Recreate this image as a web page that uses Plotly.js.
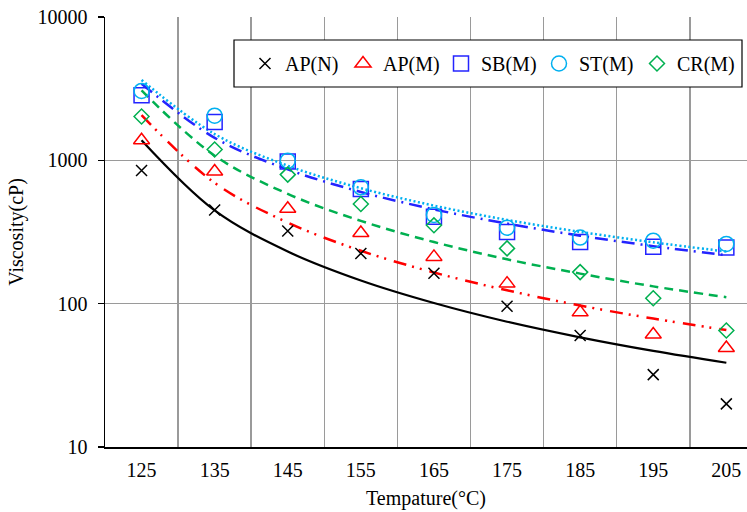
<!DOCTYPE html>
<html>
<head>
<meta charset="utf-8">
<script src="https://cdn.plot.ly/plotly-3.0.1.min.js"></script>
<style>html,body{margin:0;padding:0;background:#fff;}#chart{width:747px;height:512px;}</style>
</head>
<body>
<div id="chart"></div>
<script>
// Temperature categories (°C)
var temps = [125, 135, 145, 155, 165, 175, 185, 195, 205];
var gridTemps = [130, 140, 150, 160, 170, 180, 190, 200];
var yTicks = [10, 100, 1000, 10000];
var yTickText = ['10', '100', '1000', '10000'];

// Measured viscosity (cP)
var apN = [850, 450, 321, 224, 163, 96, 60, 32, 20];
var apM = [1380, 835, 460, 311, 212, 138, 87, 61, 49];
var sbM = [2850, 1850, 980, 630, 404, 316, 269, 250, 247];
var stM = [3050, 2050, 995, 648, 416, 339, 289, 275, 261];
var crM = [2020, 1190, 795, 496, 352, 243, 166, 109, 65];

// Trend lines (cP)
var apNTrend = [1380, 447, 231, 145, 101, 74.8, 58.2, 46.8, 38.7];
var apMTrend = [2068, 696, 368, 234, 165, 124, 97, 78.7, 65.5];
var sbMTrend = [3426, 1436, 864, 602, 455, 362, 298, 252, 218];
var stMTrend = [3639, 1525, 917, 639, 483, 384, 317, 268, 231];
var crMTrend = [3073, 1078, 583, 378, 269, 204, 162, 132, 111];

var names = ['AP(N)', 'AP(M)', 'SB(M)', 'ST(M)', 'CR(M)'];

var cBlack = '#000000', cRed = '#FF0000', cBlue = '#2424FF', cSky = '#00B0F0', cGreen = '#00B050';

function trend(y, color, width, dash) {
  return {x: temps, y: y, type: 'scatter', mode: 'lines', showlegend: false, hoverinfo: 'skip',
    line: {color: color, width: width, dash: dash, shape: 'spline', smoothing: 1}};
}
function pts(y, name, symbol, size, color) {
  return {x: temps, y: y, type: 'scatter', mode: 'markers', name: name,
    marker: {symbol: symbol, size: size, color: color, line: {color: color, width: 1.5}}};
}

var traces = [
  trend(apNTrend, cBlack, 2.2, 'solid'),
  trend(apMTrend, cRed, 2.5, '13px,6px,2px,6px,2px,8px'),
  trend(sbMTrend, cBlue, 2.5, '13px,6px,2px,6px'),
  trend(stMTrend, cSky, 2.5, '2px,2.5px'),
  trend(crMTrend, cGreen, 2.5, '9px,6px'),
  pts(apN, names[0], 'x-thin-open', 11, cBlack),
  pts(apM, names[1], 'triangle-up-open', 14, cRed),
  pts(sbM, names[2], 'square-open', 15, cBlue),
  pts(stM, names[3], 'circle-open', 15, cSky),
  pts(crM, names[4], 'diamond-open', 11.5, cGreen)
];

var fontFam = 'Liberation Serif, Times New Roman, serif';
var L = 105, T = 17, B = 65, W = 747, H = 512;
var pw = W - L, ph = H - T - B;
function px(x) { return (x - L) / pw; }
function py(y) { return (H - B - y) / ph; }

var layout = {
  width: W, height: H,
  margin: {l: L, r: 0, t: T, b: B, pad: 0, autoexpand: false},
  paper_bgcolor: '#fff', plot_bgcolor: '#fff',
  font: {family: fontFam, size: 20, color: '#000'},
  showlegend: true,
  xaxis: {
    type: 'linear', range: [120, 120 + pw / 7.31],
    tickmode: 'array', tickvals: temps, ticktext: temps.map(String),
    showgrid: false, zeroline: false, ticks: '', ticklabelstandoff: 4,
    showline: true, linecolor: '#000', linewidth: 1.5, automargin: false,
    tickfont: {family: fontFam, size: 20, color: '#000'},
    minor: {tickmode: 'array', tickvals: gridTemps, showgrid: true, gridcolor: '#9a9a9a', gridwidth: 1.5, ticks: ''},
    title: {text: 'Tempature(°C)', font: {family: fontFam, size: 20, color: '#000'}, standoff: 11}
  },
  yaxis: {
    type: 'log', range: [1, 4],
    tickmode: 'array', tickvals: yTicks, ticktext: yTickText,
    showgrid: true, gridcolor: '#9a9a9a', gridwidth: 1.5, zeroline: false,
    ticks: 'outside', ticklen: 6, tickwidth: 1.5, tickcolor: '#000', ticklabelstandoff: 6,
    showline: true, linecolor: '#000', linewidth: 1.5, automargin: false,
    tickfont: {family: fontFam, size: 20, color: '#000'},
    title: {text: 'Viscosity(cP)', font: {family: fontFam, size: 20, color: '#000'}, standoff: 8}
  },
  legend: {
    orientation: 'h', x: px(245), y: py(44), xanchor: 'left', yanchor: 'top',
    bgcolor: 'rgba(0,0,0,0)', borderwidth: 0,
    font: {family: fontFam, size: 20, color: '#000'},
    entrywidth: 53, entrywidthmode: 'pixels', itemwidth: 30
  },
  shapes: [{
    type: 'rect', xref: 'paper', yref: 'paper', layer: 'above',
    x0: px(234), x1: px(742), y0: py(87), y1: py(40),
    fillcolor: '#fff', line: {color: '#000', width: 1.2}
  }]
};

Plotly.newPlot('chart', traces, layout, {staticPlot: true, displayModeBar: false});
</script>
</body>
</html>
